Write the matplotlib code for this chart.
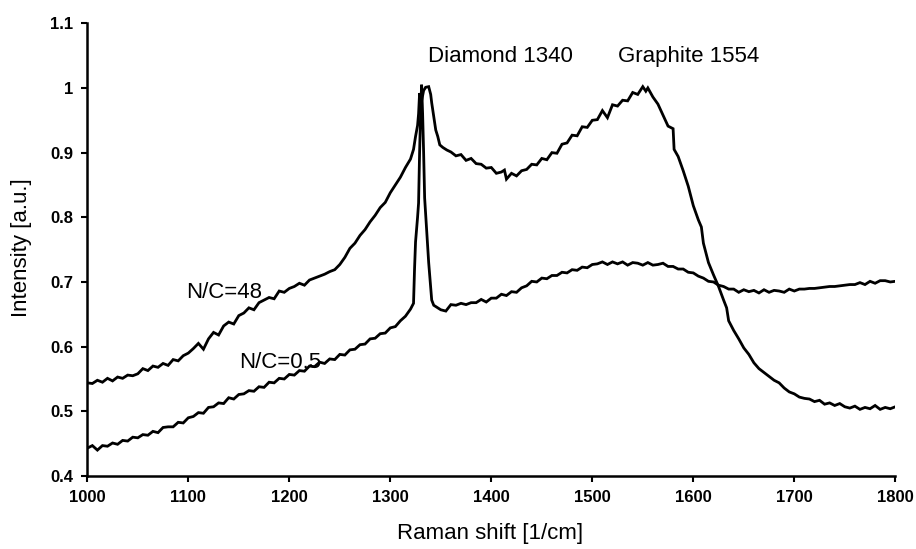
import matplotlib
matplotlib.use("Agg")
import matplotlib.pyplot as plt

plt.rcParams['font.family'] = ['Liberation Sans', 'DejaVu Sans']

# N/C=48 series (Raman shift, intensity)
nc48_x = [1000, 1005, 1010, 1015, 1020, 1025, 1030, 1035, 1040, 1045, 1050, 1055, 1060, 1065, 1070,
          1075, 1080, 1085, 1090, 1095, 1100, 1105, 1110, 1115, 1120, 1125, 1130, 1135, 1140, 1145,
          1150, 1155, 1160, 1165, 1170, 1175, 1180, 1185, 1190, 1195, 1200, 1205, 1210, 1215, 1220,
          1225, 1230, 1235, 1240, 1245, 1250, 1255, 1260, 1265, 1270, 1275, 1280, 1285, 1290, 1295,
          1300, 1305, 1310, 1315, 1320, 1323, 1325, 1327, 1328, 1329, 1331, 1333, 1335, 1338, 1340,
          1341, 1343, 1345, 1347, 1349, 1352, 1356, 1360, 1365, 1370, 1375, 1380, 1385, 1390, 1395,
          1400, 1405, 1410, 1413, 1415, 1420, 1425, 1430, 1435, 1440, 1445, 1450, 1455, 1460, 1465,
          1470, 1475, 1480, 1485, 1490, 1495, 1500, 1505, 1510, 1515, 1520, 1525, 1530, 1535, 1540,
          1545, 1550, 1553, 1555, 1560, 1565, 1570, 1575, 1580, 1581, 1585, 1590, 1595, 1600, 1605,
          1608, 1610, 1615, 1620, 1625, 1630, 1633, 1635, 1640, 1645, 1650, 1655, 1660, 1665, 1670,
          1675, 1680, 1685, 1690, 1695, 1700, 1705, 1710, 1715, 1720, 1725, 1730, 1735, 1740, 1745,
          1750, 1755, 1760, 1765, 1770, 1775, 1780, 1785, 1790, 1795, 1800]
nc48_y = [0.544, 0.543, 0.548, 0.545, 0.551, 0.547, 0.553, 0.551, 0.556, 0.555, 0.558, 0.566, 0.563, 0.570, 0.568,
          0.574, 0.571, 0.580, 0.578, 0.586, 0.590, 0.597, 0.605, 0.596, 0.612, 0.622, 0.618, 0.632, 0.638, 0.635,
          0.648, 0.652, 0.660, 0.657, 0.668, 0.672, 0.676, 0.674, 0.686, 0.684, 0.690, 0.693, 0.698, 0.695, 0.703,
          0.706, 0.709, 0.712, 0.716, 0.719, 0.727, 0.738, 0.752, 0.760, 0.772, 0.781, 0.793, 0.803, 0.815, 0.823,
          0.838, 0.850, 0.862, 0.877, 0.890, 0.905, 0.925, 0.942, 0.960, 0.992, 0.980, 0.996, 1.001, 1.002, 0.990,
          0.977, 0.956, 0.935, 0.925, 0.912, 0.908, 0.904, 0.901, 0.895, 0.897, 0.888, 0.891, 0.883, 0.882, 0.876,
          0.877, 0.868, 0.870, 0.873, 0.859, 0.868, 0.864, 0.872, 0.874, 0.882, 0.881, 0.891, 0.889, 0.900, 0.899,
          0.913, 0.915, 0.927, 0.926, 0.940, 0.939, 0.950, 0.951, 0.965, 0.954, 0.974, 0.972, 0.981, 0.980, 0.993,
          0.990, 1.002, 0.995, 1.000, 0.986, 0.975, 0.958, 0.941, 0.937, 0.905, 0.894, 0.872, 0.848, 0.818, 0.796,
          0.785, 0.760, 0.730, 0.711, 0.693, 0.672, 0.660, 0.640, 0.625, 0.612, 0.598, 0.588, 0.575, 0.566, 0.560,
          0.554, 0.548, 0.544, 0.536, 0.530, 0.527, 0.522, 0.520, 0.519, 0.515, 0.517, 0.511, 0.513, 0.509, 0.512,
          0.507, 0.505, 0.508, 0.503, 0.506, 0.504, 0.509, 0.503, 0.506, 0.504, 0.507]

# N/C=0.5 series
nc05_x = [1000, 1005, 1010, 1015, 1020, 1025, 1030, 1035, 1040, 1045, 1050, 1055, 1060, 1065, 1070,
          1075, 1080, 1085, 1090, 1095, 1100, 1105, 1110, 1115, 1120, 1125, 1130, 1135, 1140, 1145,
          1150, 1155, 1160, 1165, 1170, 1175, 1180, 1185, 1190, 1195, 1200, 1205, 1210, 1215, 1220,
          1225, 1230, 1235, 1240, 1245, 1250, 1255, 1260, 1265, 1270, 1275, 1280, 1285, 1290, 1295,
          1300, 1305, 1310, 1315, 1320, 1323, 1324, 1325, 1327, 1328, 1329, 1330, 1331, 1332, 1333,
          1334, 1336, 1338, 1340, 1341, 1343, 1346, 1350, 1355, 1360, 1365, 1370, 1375, 1380, 1385,
          1390, 1395, 1400, 1405, 1410, 1415, 1420, 1425, 1430, 1435, 1440, 1445, 1450, 1455, 1460,
          1465, 1470, 1475, 1480, 1485, 1490, 1495, 1500, 1505, 1510, 1515, 1520, 1525, 1530, 1535,
          1540, 1545, 1550, 1555, 1560, 1565, 1570, 1575, 1580, 1585, 1590, 1595, 1600, 1605, 1610,
          1615, 1620, 1625, 1630, 1635, 1640, 1645, 1650, 1655, 1660, 1665, 1670, 1675, 1680, 1685,
          1690, 1695, 1700, 1705, 1710, 1715, 1720, 1725, 1730, 1735, 1740, 1745, 1750, 1755, 1760,
          1765, 1770, 1775, 1780, 1785, 1790, 1795, 1800]
nc05_y = [0.443, 0.447, 0.440, 0.447, 0.446, 0.451, 0.449, 0.455, 0.454, 0.460, 0.459, 0.464, 0.463, 0.469, 0.467,
          0.475, 0.476, 0.476, 0.483, 0.482, 0.490, 0.492, 0.498, 0.497, 0.506, 0.507, 0.513, 0.512, 0.521, 0.519,
          0.526, 0.527, 0.532, 0.531, 0.538, 0.537, 0.545, 0.544, 0.551, 0.550, 0.557, 0.556, 0.563, 0.562, 0.570,
          0.569, 0.576, 0.574, 0.581, 0.580, 0.588, 0.587, 0.595, 0.596, 0.603, 0.604, 0.612, 0.613, 0.620, 0.621,
          0.629, 0.631, 0.640, 0.647, 0.658, 0.667, 0.720, 0.762, 0.800, 0.822, 0.900, 0.960, 1.005, 0.960, 0.900,
          0.830, 0.780, 0.730, 0.690, 0.672, 0.664, 0.661, 0.657, 0.655, 0.665, 0.664, 0.667, 0.665, 0.668, 0.668,
          0.673, 0.669, 0.675, 0.675, 0.681, 0.679, 0.685, 0.684, 0.691, 0.694, 0.701, 0.700, 0.706, 0.705, 0.710,
          0.710, 0.715, 0.714, 0.719, 0.718, 0.723, 0.722, 0.727, 0.728, 0.731, 0.727, 0.731, 0.728, 0.731, 0.726,
          0.730, 0.729, 0.726, 0.730, 0.726, 0.727, 0.729, 0.724, 0.724, 0.720, 0.720, 0.715, 0.714, 0.709, 0.706,
          0.701, 0.700, 0.695, 0.693, 0.689, 0.689, 0.684, 0.688, 0.685, 0.687, 0.683, 0.688, 0.684, 0.687, 0.686,
          0.684, 0.689, 0.686, 0.689, 0.689, 0.690, 0.690, 0.691, 0.692, 0.693, 0.693, 0.694, 0.695, 0.696, 0.696,
          0.699, 0.696, 0.701, 0.698, 0.702, 0.702, 0.700, 0.701]

x_ticks = [1000, 1100, 1200, 1300, 1400, 1500, 1600, 1700, 1800]
y_ticks = [0.4, 0.5, 0.6, 0.7, 0.8, 0.9, 1.0, 1.1]
y_tick_labels = ["0.4", "0.5", "0.6", "0.7", "0.8", "0.9", "1", "1.1"]

fig = plt.figure(figsize=(9.16, 5.49), dpi=100)
ax = fig.add_axes([0.0953, 0.1330, 0.8821, 0.8246])

ax.plot(nc48_x, nc48_y, color='black', lw=2.0, solid_joinstyle='miter')
ax.plot(nc05_x, nc05_y, color='black', lw=2.0, solid_joinstyle='miter')

ax.set_xlim(1000, 1800)
ax.set_ylim(0.4, 1.1)
ax.set_xticks(x_ticks)
ax.set_xticklabels([str(t) for t in x_ticks], fontsize=12, fontweight='bold')
ax.set_yticks(y_ticks)
ax.set_yticklabels(y_tick_labels, fontsize=12, fontweight='bold')

for s in ['top', 'right']:
    ax.spines[s].set_visible(False)
for s in ['left', 'bottom']:
    ax.spines[s].set_linewidth(1.8)
ax.tick_params(direction='out', length=4, width=1.5, pad=6)

ax.set_xlabel("Raman shift [1/cm]", fontsize=16)
ax.set_ylabel("Intensity [a.u.]", fontsize=16)
ax.xaxis.set_label_coords(0.499, -0.103)
ax.yaxis.set_label_coords(-0.068, 0.504)

ax.text(1337, 1.0395, "Diamond 1340", fontsize=16, ha='left', va='baseline')
ax.text(1525, 1.0395, "Graphite 1554", fontsize=16, ha='left', va='baseline')
ax.text(1097.5, 0.675, "N/C=48", fontsize=16, ha='left', va='baseline')
ax.text(1150.5, 0.567, "N/C=0.5", fontsize=16, ha='left', va='baseline')

fig.savefig("out.png", dpi=100)
